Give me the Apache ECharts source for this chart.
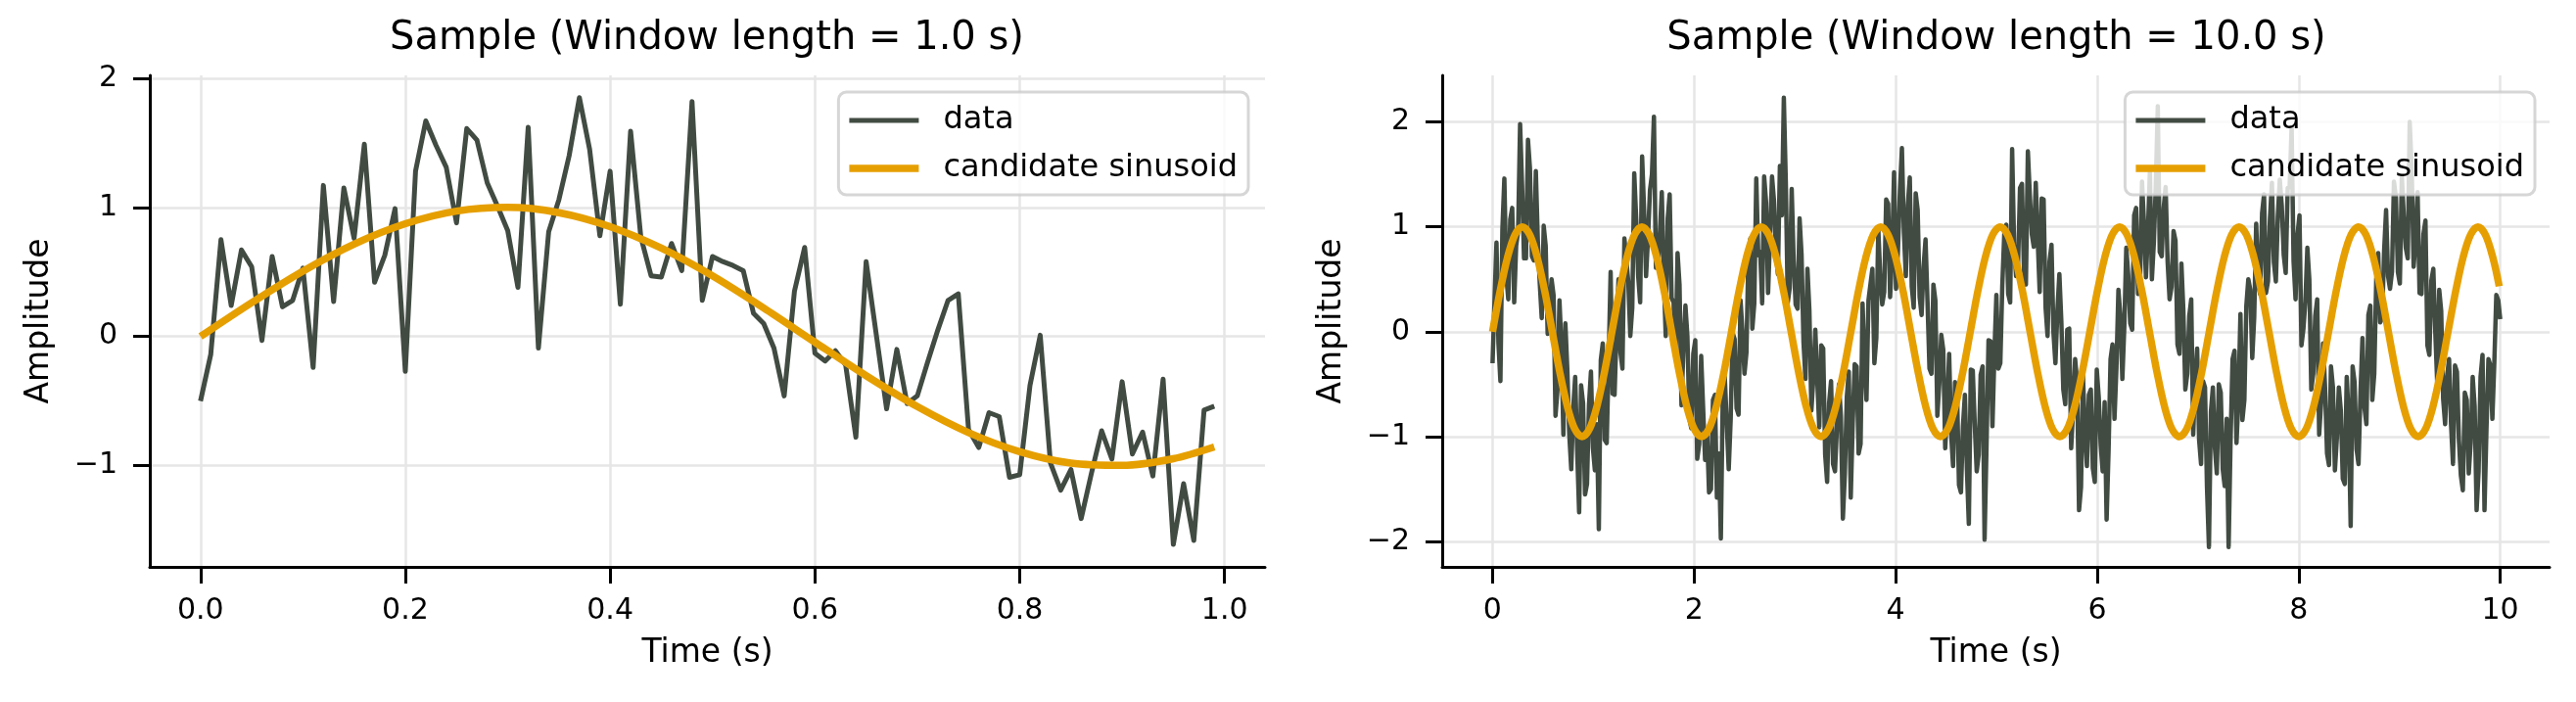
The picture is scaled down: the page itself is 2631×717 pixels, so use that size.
<!DOCTYPE html>
<html>
<head>
<meta charset="utf-8">
<title>Sample windows</title>
<script src="https://cdn.jsdelivr.net/npm/echarts@6/dist/echarts.min.js"></script>
<style>
  html, body { margin: 0; padding: 0; background: #fff; }
  #main { width: 2631px; height: 717px; }
</style>
</head>
<body>
<div id="main"></div>
<script>
(function () {
    var dataColor = '#414b42';
    var sineColor = '#e69f00';
    var font = 'DejaVu Sans';

    // 1 s window, one sample every 0.01 s
    var step1 = 0.01;
    var data1 = [
        -0.50, -0.14, 0.75, 0.24, 0.67, 0.54, -0.03, 0.62, 0.23, 0.28,
        0.53, -0.24, 1.17, 0.27, 1.15, 0.76, 1.49, 0.42, 0.63, 0.99,
        -0.27, 1.28, 1.67, 1.48, 1.31, 0.88, 1.61, 1.52, 1.19, 1.01,
        0.82, 0.38, 1.62, -0.09, 0.81, 1.06, 1.40, 1.85, 1.45, 0.78,
        1.28, 0.25, 1.59, 0.77, 0.47, 0.46, 0.72, 0.51, 1.82, 0.28,
        0.62, 0.58, 0.55, 0.51, 0.18, 0.10, -0.09, -0.46, 0.35, 0.69,
        -0.13, -0.19, -0.11, -0.22, -0.78, 0.58, 0.01, -0.56, -0.10, -0.52,
        -0.46, -0.20, 0.05, 0.28, 0.33, -0.72, -0.86, -0.59, -0.62, -1.09,
        -1.07, -0.38, 0.01, -0.98, -1.19, -1.03, -1.41, -1.06, -0.73, -0.95,
        -0.35, -0.91, -0.74, -1.08, -0.33, -1.61, -1.14, -1.58, -0.57, -0.54
    ];
    var sineT1 = [0, 0.05, 0.10, 0.15, 0.20, 0.25, 0.30, 0.35, 0.40, 0.45, 0.50,
        0.55, 0.60, 0.65, 0.70, 0.75, 0.80, 0.85, 0.90, 0.95, 0.99];
    var sineV1 = [0, 0.262, 0.506, 0.715, 0.873, 0.971, 1.000, 0.959, 0.851, 0.684, 0.469,
        0.220, -0.044, -0.304, -0.543, -0.744, -0.892, -0.981, -0.998, -0.946, -0.855];

    // 10 s window, 512 steps over 10 s
    var step10 = 10 / 512;
    var data10 = [
        -0.30, 0.30, 0.85, -0.11, -0.47, 0.97, 1.46, 0.53, 0.31, 1.07, 1.18, 0.28, 0.82, 0.96, 1.98, 1.40,
        0.70, 0.70, 1.83, 1.56, 0.72, 0.68, 1.53, 0.87, 0.46, 0.13, 1.01, 0.82, -0.02, 0.24, 0.50, 0.35,
        -0.80, -0.55, 0.30, -0.14, -0.98, 0.08, -0.36, -0.98, -1.31, -0.72, -0.43, -1.13, -1.72, -0.51, -0.68, -1.55,
        -1.45, -0.70, -0.38, -1.11, -1.32, -0.88, -1.88, -0.27, -0.11, -1.03, -1.06, -0.27, 0.57, -0.59, -0.60, 0.00,
        0.50, -0.20, -0.35, 0.89, 0.68, 0.47, -0.04, 0.23, 1.51, 1.07, 0.53, 0.28, 1.67, 1.16, 0.53, 0.90,
        1.35, 1.50, 2.05, 0.61, 0.62, 0.93, 1.33, 0.52, -0.04, 1.08, 1.31, 0.32, 0.28, -0.26, 0.75, 0.45,
        -0.70, -0.15, 0.25, -0.04, -0.83, -0.92, -0.21, -0.08, -1.21, -1.07, -0.23, -0.73, -1.22, -0.96, -1.53, -1.50,
        -0.65, -0.60, -1.58, -1.16, -1.97, -0.58, -0.43, -0.87, -1.31, -0.83, -0.01, -0.07, -0.73, -0.79, 0.30, 0.00,
        -0.40, -0.20, 0.75, 0.89, 0.03, 0.27, 1.46, 0.73, 0.76, 0.27, 1.48, 1.23, 0.37, 0.91, 1.48, 1.25,
        0.75, 0.55, 1.58, 1.11, 2.23, 1.43, 0.28, 0.42, 1.36, 0.68, 0.26, 0.22, 1.08, 0.74, -0.10, -0.45,
        0.60, 0.20, -0.75, -0.44, 0.02, -0.47, -0.91, -0.13, -0.16, -1.17, -1.43, -0.68, -0.47, -1.26, -1.33, -0.90,
        -0.50, -0.80, -1.78, -1.36, -0.62, -0.38, -1.58, -0.87, -0.31, -0.33, -1.16, -1.07, 0.27, -0.29, -0.65, 0.30,
        0.45, 0.60, -0.30, -0.06, 0.98, 0.52, 0.26, 0.38, 1.26, 1.22, 0.33, 0.73, 1.52, 0.41, 0.78, 1.35,
        1.75, 0.95, 0.53, 1.21, 1.47, 0.43, 0.23, 1.32, 1.16, 0.33, 0.16, 0.62, 0.88, 0.29, -0.35, -0.40,
        0.45, 0.30, -0.80, -0.49, -0.03, -0.17, -1.11, -0.73, -0.21, -0.97, -1.28, -0.48, -0.57, -1.46, -1.53, -0.90,
        -0.60, -1.30, -1.83, -0.36, -0.37, -0.88, -1.33, -1.17, -0.41, -0.33, -1.98, -1.07, -0.08, -0.09, -0.90, -0.20,
        0.35, -0.35, -0.30, 0.44, 0.93, 1.02, 0.36, 0.28, 1.74, 0.82, 0.53, 0.63, 1.37, 1.41, 0.58, 0.45,
        1.72, 1.30, 0.93, 0.81, 1.42, 0.88, 0.38, 1.27, 1.26, 0.23, -0.04, 0.67, 0.83, -0.01, -0.30, 0.20,
        0.55, 0.10, -0.55, -0.69, 0.02, 0.03, -1.11, -0.73, -0.26, -0.47, -1.70, -1.48, -0.42, -0.96, -1.28, -0.60,
        -0.55, -1.30, -1.43, -0.36, -0.62, -1.08, -1.33, -0.67, -1.79, -1.13, -0.26, -0.12, -0.83, -0.34, 0.40, 0.15,
        -0.45, 0.05, 0.80, 0.54, 0.08, 0.02, 1.11, 1.18, 0.36, 0.47, 1.43, 1.03, 0.52, 0.96, 1.53, 0.50,
        0.85, 1.40, 2.15, 0.76, 0.72, 1.18, 1.38, 0.67, 0.31, 0.43, 0.96, 0.87, -0.12, -0.21, 0.65, 0.20,
        -0.55, -0.40, 0.15, 0.31, -0.98, -0.47, -0.16, -1.03, -1.26, -0.47, -0.53, -1.48, -2.05, -0.76, -0.53, -1.10,
        -1.35, -0.50, -0.58, -1.31, -1.47, -0.83, -2.05, -1.02, -0.26, -0.18, -1.06, -0.62, 0.17, -0.84, -0.65, 0.25,
        0.50, 0.40, -0.25, 0.14, 1.03, 0.47, 0.36, 1.13, 1.31, 0.37, 0.48, 1.08, 1.42, 0.66, 0.48, 1.10,
        1.45, 1.20, 0.73, 0.56, 1.37, 1.38, 1.95, 0.67, 0.31, 0.93, 1.11, -0.13, 0.03, 0.29, 0.80, 0.50,
        -0.55, -0.40, 0.15, 0.31, -0.98, -0.67, -0.11, -0.53, -1.16, -1.27, -0.33, -0.53, -1.32, -1.01, -0.53, -0.75,
        -1.40, -1.45, -0.43, -0.81, -1.85, -0.33, -0.48, -1.12, -1.26, -0.58, -0.06, -0.72, -0.88, 0.16, 0.25, -0.65,
        -0.40, 0.50, 0.75, 0.09, 0.13, 0.77, 1.16, 0.53, 0.41, 0.57, 1.43, 1.28, 0.57, 0.46, 1.48, 1.10,
        0.80, 0.70, 2.00, 1.56, 0.62, 0.88, 1.33, 0.37, 0.36, 0.93, 1.06, -0.13, -0.22, 0.49, 0.60, 0.00,
        -0.50, 0.40, 0.20, -0.64, -0.88, -0.42, -0.26, -0.88, -1.26, -0.32, -0.38, -1.03, -1.37, -1.51, -0.58, -0.65,
        -1.35, -1.05, -0.43, -0.71, -1.70, -1.33, -0.43, -0.22, -1.70, -0.93, -0.26, -0.32, -0.83, -0.29, 0.35, 0.30,
        0.12
    ];
    var sineT10 = [
        0, 0.074, 0.148, 0.222, 0.296, 0.370, 0.444, 0.519, 0.593, 0.667, 0.741, 0.815, 0.889, 0.963, 1.037, 1.111,
        1.185, 1.259, 1.333, 1.408, 1.482, 1.556, 1.630, 1.704, 1.778, 1.852, 1.926, 2.000, 2.074, 2.148, 2.222, 2.297,
        2.371, 2.445, 2.519, 2.593, 2.667, 2.741, 2.815, 2.889, 2.963, 3.037, 3.111, 3.186, 3.260, 3.334, 3.408, 3.482,
        3.556, 3.630, 3.704, 3.778, 3.852, 3.926, 4.000, 4.075, 4.149, 4.223, 4.297, 4.371, 4.445, 4.519, 4.593, 4.667,
        4.741, 4.815, 4.889, 4.963, 5.038, 5.112, 5.186, 5.260, 5.334, 5.408, 5.482, 5.556, 5.630, 5.704, 5.778, 5.852,
        5.927, 6.001, 6.075, 6.149, 6.223, 6.297, 6.371, 6.445, 6.519, 6.593, 6.667, 6.741, 6.816, 6.890, 6.964, 7.038,
        7.112, 7.186, 7.260, 7.334, 7.408, 7.482, 7.556, 7.630, 7.705, 7.779, 7.853, 7.927, 8.001, 8.075, 8.149, 8.223,
        8.297, 8.371, 8.445, 8.519, 8.594, 8.668, 8.742, 8.816, 8.890, 8.964, 9.038, 9.112, 9.186, 9.260, 9.334, 9.408,
        9.482, 9.557, 9.631, 9.705, 9.779, 9.853, 9.927, 9.990
    ];
    var sineV10 = [
        0, 0.383, 0.707, 0.924, 1, 0.924, 0.707, 0.383, 0, -0.383, -0.707, -0.924, -1, -0.924, -0.707, -0.383,
        0, 0.383, 0.707, 0.924, 1, 0.924, 0.707, 0.383, 0, -0.383, -0.707, -0.924, -1, -0.924, -0.707, -0.383,
        0, 0.383, 0.707, 0.924, 1, 0.924, 0.707, 0.383, 0, -0.383, -0.707, -0.924, -1, -0.924, -0.707, -0.383,
        0, 0.383, 0.707, 0.924, 1, 0.924, 0.707, 0.383, 0, -0.383, -0.707, -0.924, -1, -0.924, -0.707, -0.383,
        0, 0.383, 0.707, 0.924, 1, 0.924, 0.707, 0.383, 0, -0.383, -0.707, -0.924, -1, -0.924, -0.707, -0.383,
        0, 0.383, 0.707, 0.924, 1, 0.924, 0.707, 0.383, 0, -0.383, -0.707, -0.924, -1, -0.924, -0.707, -0.383,
        0, 0.383, 0.707, 0.924, 1, 0.924, 0.707, 0.383, 0, -0.383, -0.707, -0.924, -1, -0.924, -0.707, -0.383,
        0, 0.383, 0.707, 0.924, 1, 0.924, 0.707, 0.383, 0, -0.383, -0.707, -0.924, -1, -0.924, -0.707, -0.383,
        0, 0.383, 0.707, 0.924, 1, 0.924, 0.707, 0.434
    ];

    var xTicks1 = [0, 0.2, 0.4, 0.6, 0.8, 1.0];
    var xTicks10 = [0, 2, 4, 6, 8, 10];
    var yTicks1 = [-1, 0, 1, 2];
    var yTicks10 = [-2, -1, 0, 1, 2];

    function sampled(step, vs) {
        return vs.map(function (v, i) { return [+(i * step).toFixed(5), v]; });
    }
    function pairs(ts, vs) {
        return ts.map(function (t, i) { return [t, vs[i]]; });
    }
    function minus(s) { return String(s).replace('-', '\u2212'); }

    var black = '#000';
    var gridLine = { show: true, lineStyle: { color: '#e6e6e6', width: 2.5 } };

    function xAxisFor(idx, min, max, ticks, digits) {
        return {
            type: 'value', gridIndex: idx, min: min, max: max,
            name: 'Time (s)', nameLocation: 'middle', nameGap: 72,
            nameTextStyle: { fontFamily: font, fontSize: 33, color: black },
            axisLine: { show: true, onZero: false, lineStyle: { color: black, width: 3 } },
            axisTick: { show: true, length: 17, customValues: ticks, lineStyle: { color: black, width: 3 } },
            axisLabel: {
                show: true, margin: 30, customValues: ticks,
                fontFamily: font, fontSize: 30, color: black,
                formatter: function (v) { return minus(v.toFixed(digits)); }
            },
            splitLine: gridLine
        };
    }
    function yAxisFor(idx, min, max, ticks) {
        return {
            type: 'value', gridIndex: idx, min: min, max: max,
            name: 'Amplitude', nameLocation: 'middle', nameGap: 96,
            nameTextStyle: { fontFamily: font, fontSize: 33, color: black },
            axisLine: { show: true, onZero: false, lineStyle: { color: black, width: 3 } },
            axisTick: { show: true, length: 17, customValues: ticks, lineStyle: { color: black, width: 3 } },
            axisLabel: {
                show: true, margin: 33, customValues: ticks,
                fontFamily: font, fontSize: 30, color: black,
                formatter: function (v) { return minus(v.toFixed(0)); }
            },
            splitLine: gridLine
        };
    }
    // legend handles are plain strokes, as thick as the series lines
    function legendFor(right) {
        return {
            data: [
                { name: 'data', icon: 'path://M0,0H71V5H0Z' },
                { name: 'candidate sinusoid', icon: 'path://M0,0H71V7.5H0Z' }
            ],
            orient: 'vertical', right: right, top: 94,
            itemWidth: 71, itemHeight: 14, itemGap: 17,
            symbolKeepAspect: true,
            padding: [13, 11, 11, 11],
            backgroundColor: 'rgba(255,255,255,0.8)',
            borderColor: 'rgba(204,204,204,0.8)', borderWidth: 3, borderRadius: 8,
            selectedMode: false,
            itemStyle: { borderWidth: 0 },
            textStyle: { fontFamily: font, fontSize: 32, color: black, padding: [0, 0, 0, 20] }
        };
    }
    function titleFor(text, center) {
        return {
            text: text, left: center, top: 20, padding: 0, textAlign: 'center',
            textStyle: { fontFamily: font, fontSize: 40, fontWeight: 'normal', color: black }
        };
    }
    function lineSeries(name, idx, data, color, width, smooth, z) {
        return {
            name: name, type: 'line', xAxisIndex: idx, yAxisIndex: idx,
            data: data, symbol: 'none', showSymbol: false, smooth: smooth,
            lineStyle: { color: color, width: width, join: 'round' },
            itemStyle: { color: color },
            z: z
        };
    }

    var myChart = echarts.init(document.getElementById('main'));
    var option = {
        animation: false,
        backgroundColor: '#fff',
        title: [
            titleFor('Sample (Window length = 1.0 s)', 722),
            titleFor('Sample (Window length = 10.0 s)', 2039)
        ],
        legend: [legendFor(1356), legendFor(42)],
        grid: [
            { left: 153, top: 77, width: 1139, height: 502, outerBoundsMode: 'none' },
            { left: 1473, top: 77, width: 1131, height: 502, outerBoundsMode: 'none' }
        ],
        xAxis: [
            xAxisFor(0, -0.0495, 1.0395, xTicks1, 1),
            xAxisFor(1, -0.4995, 10.4895, xTicks10, 0)
        ],
        yAxis: [
            yAxisFor(0, -1.784, 2.022, yTicks1),
            yAxisFor(1, -2.24, 2.443, yTicks10)
        ],
        series: [
            lineSeries('data', 0, sampled(step1, data1), dataColor, 5, false, 2),
            lineSeries('candidate sinusoid', 0, pairs(sineT1, sineV1), sineColor, 7.5, 0.3, 3),
            lineSeries('data', 1, sampled(step10, data10), dataColor, 4.5, false, 2),
            lineSeries('candidate sinusoid', 1, pairs(sineT10, sineV10), sineColor, 7.5, 0.33, 3)
        ]
    };
    myChart.setOption(option);
    window.addEventListener('resize', function () {
        myChart.resize();
    });
})();
</script>
</body>
</html>
